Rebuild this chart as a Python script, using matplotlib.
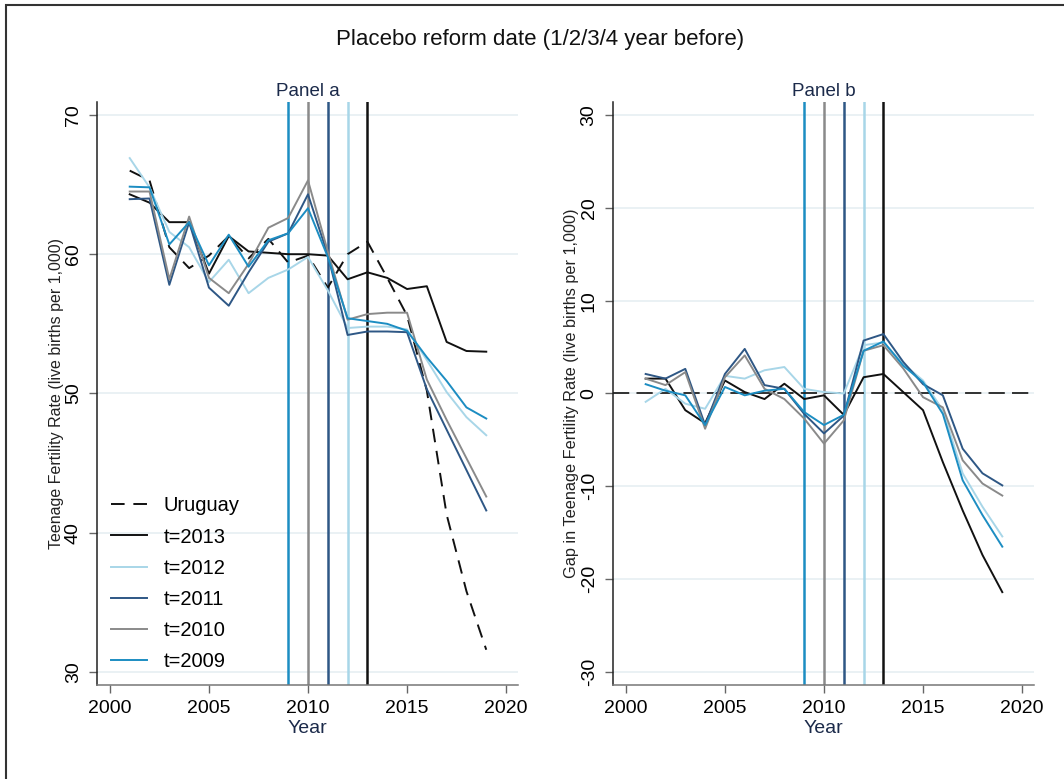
import matplotlib
matplotlib.use("Agg")
import matplotlib.pyplot as plt
from matplotlib.patches import Rectangle

plt.rcParams["font.family"] = ["Liberation Sans", "DejaVu Sans"]
plt.rcParams["axes.unicode_minus"] = False

years = list(range(2001, 2020))
placebo_years = [2009, 2010, 2011, 2012, 2013]

# Panel a: teenage fertility rate, Uruguay vs synthetic controls
uruguay = [66.0, 65.3, 60.5, 59.0, 59.9, 61.3, 59.7, 61.1, 59.4, 59.9,
           57.6, 60.0, 60.9, 58.3, 55.6, 50.2, 41.3, 35.8, 31.6]
synth_2013 = [64.3, 63.7, 62.3, 62.3, 58.6, 61.3, 60.2, 60.1, 60.0, 60.0,
              59.9, 58.2, 58.7, 58.3, 57.5, 57.7, 53.7, 53.05, 53.0]
synth_2012 = [66.9, 64.8, 61.6, 60.5, 58.0, 59.6, 57.2, 58.3, 58.9, 59.8,
              57.4, 54.7, 54.8, 54.8, 54.6, 52.4, 50.1, 48.3, 47.0]
synth_2011 = [63.95, 64.0, 57.8, 62.3, 57.6, 56.3, 58.7, 60.9, 61.5, 64.3,
              59.95, 54.2, 54.45, 54.45, 54.4, 50.3, 47.4, 44.5, 41.6]
synth_2010 = [64.5, 64.5, 58.2, 62.7, 58.3, 57.2, 59.3, 61.9, 62.6, 65.3,
              60.2, 55.3, 55.7, 55.8, 55.8, 51.0, 48.1, 45.35, 42.6]
synth_2009 = [64.85, 64.8, 60.7, 62.3, 59.2, 61.4, 59.1, 61.0, 61.5, 63.3,
              59.8, 55.4, 55.2, 55.0, 54.5, 52.6, 50.9, 49.0, 48.2]

# Panel b: gap between Uruguay and each synthetic control
gap_2013 = [1.6, 1.6, -1.8, -3.2, 1.4, 0.15, -0.6, 1.05, -0.6, -0.2,
            -2.3, 1.75, 2.1, 0.15, -1.8, -7.4, -12.6, -17.4, -21.4]
gap_2012 = [-0.9, 0.5, -1.1, -1.65, 1.9, 1.6, 2.5, 2.85, 0.5, 0.15,
            0.0, 5.2, 5.5, 3.2, 1.4, -1.8, -8.6, -12.2, -15.4]
gap_2011 = [2.1, 1.6, 2.65, -3.4, 2.1, 4.8, 0.9, 0.5, -2.2, -4.3,
            -2.4, 5.7, 6.4, 3.4, 1.0, -0.2, -5.95, -8.6, -9.9]
gap_2010 = [1.6, 0.9, 2.3, -3.8, 1.75, 4.1, 0.5, -0.6, -2.7, -5.4,
            -2.9, 4.6, 5.2, 2.7, -0.4, -1.5, -7.2, -9.7, -11.0]
gap_2009 = [1.0, 0.3, -0.2, -3.4, 0.7, -0.2, 0.3, 0.5, -2.0, -3.4,
            -2.3, 4.6, 5.6, 3.0, 1.2, -2.2, -9.35, -13.1, -16.5]

colors = {
    2013: "#111111",
    2012: "#a8d6e8",
    2011: "#2e5785",
    2010: "#8a8a8a",
    2009: "#1c8dc2",
}
grid_color = "#e6eff2"
label_color = "#1b2a4a"

series_a = [(2013, synth_2013), (2012, synth_2012), (2011, synth_2011),
            (2010, synth_2010), (2009, synth_2009)]
series_b = [(2013, gap_2013), (2012, gap_2012), (2011, gap_2011),
            (2010, gap_2010), (2009, gap_2009)]

fig = plt.figure(figsize=(10.64, 7.79), dpi=100)
fig.patches.append(Rectangle((0.006, -0.05), 1.1, 0.993 + 0.05,
                             transform=fig.transFigure, fill=False,
                             edgecolor="#333333", linewidth=1.5))
fig.text(0.5075, 0.949, "Placebo reform date (1/2/3/4 year before)",
         ha="center", va="center", fontsize=16, color="#111111")

ax_a = fig.add_axes([0.0912, 0.1207, 0.3956, 0.7484])
ax_b = fig.add_axes([0.5761, 0.1207, 0.3957, 0.7484])


def style_axis(ax, yticks, ylim, ylabel, ylabel_size, ylabel_x, title):
    ax.set_xlim(1999.35, 2020.6)
    ax.set_ylim(*ylim)
    ax.set_xticks([2000, 2005, 2010, 2015, 2020])
    ax.set_yticks(yticks)
    for y in yticks:
        ax.axhline(y, color=grid_color, lw=1.2, zorder=0)
    for side in ("top", "right"):
        ax.spines[side].set_visible(False)
    ax.spines["left"].set_color("#222222")
    ax.spines["bottom"].set_color("#777777")
    ax.spines["left"].set_linewidth(1.1)
    ax.spines["bottom"].set_linewidth(1.1)
    ax.tick_params(axis="both", labelsize=14, length=6, width=1.0,
                   color="#666666", pad=5)
    for lab in ax.get_yticklabels():
        lab.set_rotation(90)
        lab.set_va("center")
    ax.set_xlabel("Year", fontsize=14, color=label_color, labelpad=2)
    ax.set_ylabel(ylabel, fontsize=ylabel_size, color="#222222")
    ax.yaxis.set_label_coords(ylabel_x, 0.5)
    ax.set_title(title, fontsize=13.5, color=label_color, pad=4)


# Panel a
for yr in placebo_years:
    ax_a.axvline(yr, color=colors[yr], lw=1.8, zorder=2)
line_u, = ax_a.plot(years, uruguay, color="#111111", lw=1.4, zorder=3,
                    label="Uruguay")
line_u.set_dashes((7, 4.5))
for yr, vals in series_a:
    ax_a.plot(years, vals, color=colors[yr], lw=1.4, zorder=3,
              label=f"t={yr}")
style_axis(ax_a, [30, 40, 50, 60, 70], (29.07, 70.93),
           "Teenage Fertility Rate (live births per 1,000)", 11.5, -0.078,
           "Panel a")
ax_a.legend(loc="lower left", bbox_to_anchor=(0.0, 0.0), frameon=False,
            fontsize=14.5, handlelength=1.8, handletextpad=0.8,
            labelspacing=0.6, borderaxespad=0.3)

# Panel b
for yr in placebo_years:
    ax_b.axvline(yr, color=colors[yr], lw=1.8, zorder=2)
zero, = ax_b.plot([1999.35, 2020.6], [0, 0], color="#222222", lw=1.3,
                  zorder=2)
zero.set_dashes((9, 4))
for yr, vals in series_b:
    ax_b.plot(years, vals, color=colors[yr], lw=1.4, zorder=3)
style_axis(ax_b, [-30, -20, -10, 0, 10, 20, 30], (-31.4, 31.4),
           "Gap in Teenage Fertility Rate (live births per 1,000)", 11.7,
           -0.08, "Panel b")

fig.savefig("out.png", dpi=100)
